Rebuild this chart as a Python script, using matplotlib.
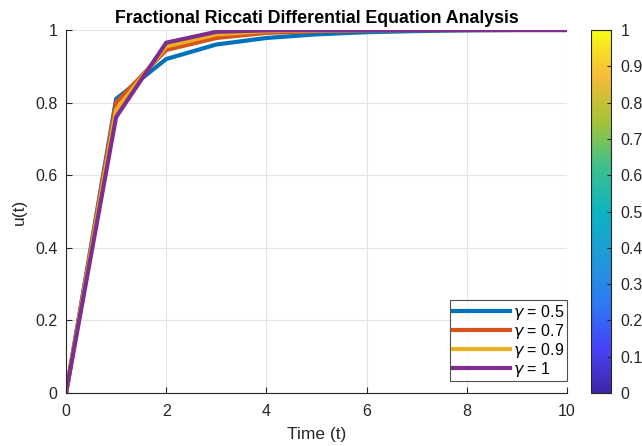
import numpy as np
import matplotlib
matplotlib.use("Agg")
import matplotlib.pyplot as plt
from matplotlib.colors import LinearSegmentedColormap
from matplotlib.cm import ScalarMappable
from matplotlib.colors import Normalize

plt.rcParams['font.family'] = ['Liberation Sans', 'DejaVu Sans']

t = [0, 1, 2, 3, 4, 5, 6, 7, 8, 9, 10]
u_05 = [0, 0.81, 0.92, 0.96, 0.978, 0.988, 0.994, 0.997, 0.999, 1.0, 1.0]
u_07 = [0, 0.80, 0.945, 0.978, 0.992, 0.997, 0.999, 1.0, 1.0, 1.0, 1.0]
u_09 = [0, 0.78, 0.955, 0.988, 0.997, 0.999, 1.0, 1.0, 1.0, 1.0, 1.0]
u_10 = [0, 0.76, 0.965, 0.995, 0.999, 1.0, 1.0, 1.0, 1.0, 1.0, 1.0]
labels = [r'$\gamma$ = 0.5', r'$\gamma$ = 0.7', r'$\gamma$ = 0.9', r'$\gamma$ = 1']
colors = ['#0072BD', '#D95319', '#EDB120', '#7E2F8E']
cbar_ticks = [0, 0.1, 0.2, 0.3, 0.4, 0.5, 0.6, 0.7, 0.8, 0.9, 1]

parula = LinearSegmentedColormap.from_list('parula', [
    (0.0, '#3e26a8'), (0.125, '#4743f8'), (0.25, '#2c7bf2'), (0.375, '#1f9ad8'),
    (0.5, '#0cb4c0'), (0.625, '#3dc08c'), (0.75, '#a6c336'), (0.875, '#f6bb38'),
    (1.0, '#f9fb15')])

fig = plt.figure(figsize=(6.42, 4.46), dpi=100)
ax = fig.add_axes([66/642, 53/446, 501/642, 363/446])
for y, lab, c in zip([u_05, u_07, u_09, u_10], labels, colors):
    ax.plot(t, y, color=c, lw=3, label=lab)

ax.set_xlim(0, 10)
ax.set_ylim(0, 1)
ax.set_xticks([0, 2, 4, 6, 8, 10])
ax.set_yticks([0, 0.2, 0.4, 0.6, 0.8, 1])
ax.set_yticklabels(['0', '0.2', '0.4', '0.6', '0.8', '1'])
ax.grid(True, color='#e3e3e3', lw=0.8)
ax.set_axisbelow(True)
for s in ['top', 'right']:
    ax.spines[s].set_visible(False)
for s in ['left', 'bottom']:
    ax.spines[s].set_color('#262626')
ax.tick_params(direction='in', length=4, labelsize=11.5, colors='#262626')
ax.tick_params(axis='x', pad=8)
ax.tick_params(axis='y', pad=6)
ax.set_xlabel('Time (t)', fontsize=12.5, color='#262626', labelpad=6)
ax.set_ylabel('u(t)', fontsize=12.5, color='#262626', labelpad=6)
ax.set_title('Fractional Riccati Differential Equation Analysis', fontsize=12.8,
             fontweight='bold', pad=5)
leg = ax.legend(loc='lower right', bbox_to_anchor=(1.0, 0.033), fontsize=11.5,
                frameon=True, fancybox=False, edgecolor='#262626',
                handlelength=3.6, handletextpad=0.2, borderpad=0.15,
                labelspacing=0.0, borderaxespad=0)
leg.get_frame().set_linewidth(0.8)

cax = fig.add_axes([591/642, 53/446, 20/642, 363/446])
sm = ScalarMappable(norm=Normalize(0, 1), cmap=parula)
cb = fig.colorbar(sm, cax=cax, ticks=cbar_ticks)
cb.ax.set_yticklabels([str(v) if v not in (0, 1) else str(int(v)) for v in cbar_ticks])
cb.ax.tick_params(direction='in', length=3, labelsize=11.5, colors='#262626', pad=7)
cb.outline.set_edgecolor('#262626')
cb.outline.set_linewidth(0.8)

fig.savefig('out.png', dpi=100)
